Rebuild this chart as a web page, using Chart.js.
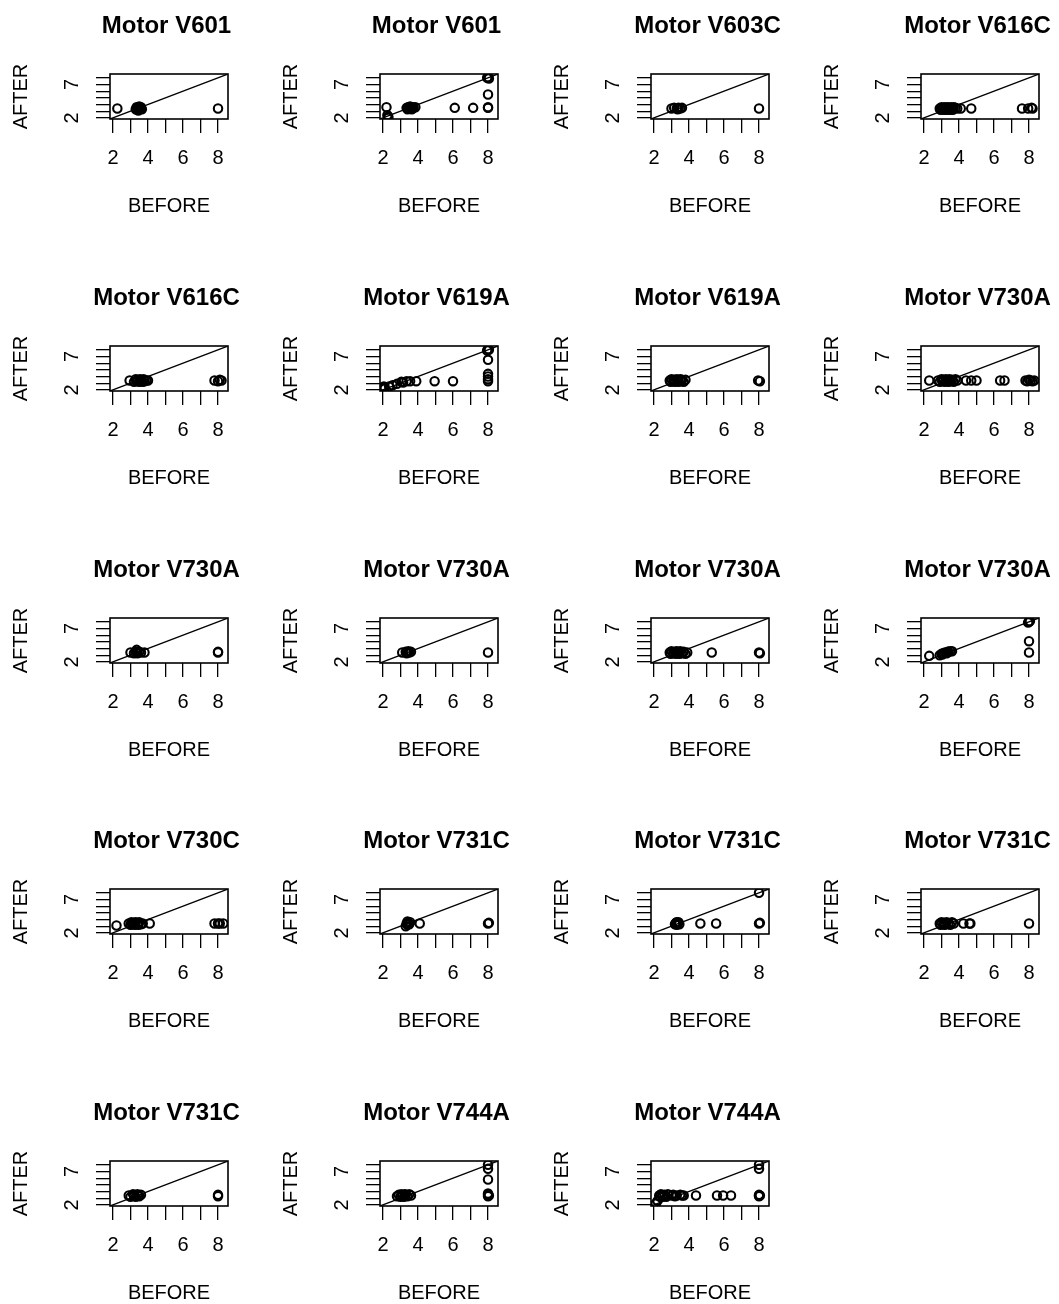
<!DOCTYPE html>
<html>
<head>
<meta charset="utf-8">
<title>Motor BEFORE / AFTER</title>
<script src="https://cdn.jsdelivr.net/npm/chart.js@4.4.1/dist/chart.umd.min.js"></script>
<style>
  html, body { margin: 0; padding: 0; background: #fff; }
  #grid { position: relative; width: 1059px; height: 1304px; overflow: hidden; }
  #grid canvas { position: absolute; }
</style>
</head>
<body>
<div id="grid"></div>
<script>
// one panel per motor, same order as the picture (row by row)
const titles = [
  "Motor V601", "Motor V601", "Motor V603C", "Motor V616C",
  "Motor V616C", "Motor V619A", "Motor V619A", "Motor V730A",
  "Motor V730A", "Motor V730A", "Motor V730A", "Motor V730A",
  "Motor V730C", "Motor V731C", "Motor V731C", "Motor V731C",
  "Motor V731C", "Motor V744A", "Motor V744A"
];

const before = [
  [2.25, 3.3, 3.35, 3.4, 3.4, 3.45, 3.5, 3.5, 3.55, 3.6, 3.6, 3.65, 3.45, 8.0],
  [2.2, 2.25, 2.3, 2.3, 3.35, 3.4, 3.45, 3.5, 3.55, 3.6, 3.65, 3.7, 3.75, 3.85, 6.1, 7.15, 8.0, 8.0, 8.0, 7.95, 8.0, 8.05],
  [3.0, 3.15, 3.3, 3.35, 3.4, 3.5, 3.6, 8.0],
  [2.9, 2.95, 3.0, 3.05, 3.1, 3.15, 3.2, 3.25, 3.3, 3.35, 3.4, 3.45, 3.5, 3.55, 3.6, 3.65, 3.7, 3.8, 3.9, 4.1, 4.7, 7.6, 7.95, 8.2, 8.15],
  [2.95, 3.2, 3.3, 3.35, 3.4, 3.5, 3.55, 3.6, 3.7, 3.75, 3.8, 3.9, 4.0, 7.8, 8.0, 8.1, 8.2],
  [2.0, 2.05, 2.1, 2.35, 2.55, 2.8, 3.05, 3.15, 3.35, 3.55, 3.9, 4.95, 6.0, 8.0, 8.0, 8.0, 8.0, 8.0, 7.95, 8.0, 8.05],
  [2.9, 2.95, 3.0, 3.1, 3.15, 3.2, 3.3, 3.35, 3.4, 3.5, 3.55, 3.6, 3.7, 3.8, 7.95, 8.05],
  [2.3, 2.8, 2.9, 3.0, 3.05, 3.1, 3.2, 3.25, 3.3, 3.4, 3.45, 3.5, 3.6, 3.7, 3.8, 3.9, 4.4, 4.7, 5.0, 6.35, 6.6, 7.8, 7.9, 8.0, 8.1, 8.2, 8.3],
  [3.0, 3.2, 3.3, 3.35, 3.4, 3.5, 3.6, 3.8, 8.0, 8.0],
  [3.1, 3.3, 3.35, 3.4, 3.45, 3.5, 3.6, 8.0],
  [2.9, 2.95, 3.0, 3.1, 3.2, 3.25, 3.3, 3.4, 3.45, 3.5, 3.6, 3.7, 3.8, 3.9, 5.3, 8.0, 8.05],
  [2.3, 2.9, 3.0, 3.05, 3.1, 3.2, 3.3, 3.35, 3.4, 3.5, 3.6, 8.0, 8.0, 8.0, 7.95, 8.05],
  [2.2, 2.9, 3.0, 3.05, 3.1, 3.2, 3.25, 3.3, 3.4, 3.45, 3.5, 3.6, 3.7, 4.1, 7.8, 8.0, 8.1, 8.3],
  [3.3, 3.35, 3.4, 3.4, 3.45, 3.5, 3.55, 4.1, 8.0, 8.05],
  [3.2, 3.25, 3.3, 3.3, 3.35, 3.4, 3.45, 4.65, 5.55, 8.0, 8.05, 8.0],
  [2.9, 2.95, 3.0, 3.1, 3.15, 3.2, 3.3, 3.4, 3.5, 3.6, 3.7, 4.25, 4.6, 4.65, 8.0],
  [2.9, 3.0, 3.15, 3.2, 3.3, 3.4, 3.45, 3.5, 3.6, 8.0, 8.0],
  [2.8, 2.9, 3.0, 3.05, 3.1, 3.2, 3.25, 3.3, 3.4, 3.5, 3.6, 8.0, 8.0, 8.0, 8.05, 8.0, 8.0, 8.0],
  [2.1, 2.2, 2.3, 2.35, 2.4, 2.5, 2.6, 2.7, 2.8, 3.0, 3.1, 3.2, 3.3, 3.5, 3.6, 3.7, 4.4, 5.6, 5.95, 6.4, 8.0, 8.0, 8.0, 8.05, 8.0, 8.0]
];

const after = [
  [3.4, 3.3, 3.6, 3.2, 3.5, 3.4, 3.7, 3.3, 3.5, 3.4, 3.6, 3.3, 3.1, 3.4],
  [3.6, 2.4, 2.2, 2.0, 3.5, 3.3, 3.6, 3.4, 3.7, 3.5, 3.3, 3.6, 3.5, 3.6, 3.5, 3.5, 3.5, 3.6, 5.5, 8.0, 8.1, 7.9],
  [3.4, 3.5, 3.4, 3.3, 3.5, 3.4, 3.5, 3.4],
  [3.4, 3.2, 3.6, 3.3, 3.5, 3.2, 3.6, 3.4, 3.2, 3.6, 3.3, 3.5, 3.2, 3.6, 3.4, 3.2, 3.6, 3.5, 3.4, 3.4, 3.4, 3.4, 3.4, 3.4, 3.5],
  [3.4, 3.2, 3.6, 3.3, 3.5, 3.2, 3.6, 3.4, 3.2, 3.6, 3.3, 3.4, 3.4, 3.4, 3.3, 3.5, 3.4],
  [2.3, 2.5, 2.2, 2.5, 2.7, 2.9, 3.2, 3.1, 3.3, 3.3, 3.3, 3.3, 3.3, 3.3, 3.6, 4.0, 4.4, 6.5, 7.9, 8.1, 8.0],
  [3.4, 3.2, 3.6, 3.3, 3.5, 3.2, 3.6, 3.4, 3.2, 3.6, 3.3, 3.5, 3.2, 3.5, 3.4, 3.3],
  [3.4, 3.4, 3.2, 3.6, 3.3, 3.5, 3.2, 3.6, 3.4, 3.2, 3.6, 3.3, 3.5, 3.2, 3.6, 3.4, 3.4, 3.4, 3.4, 3.4, 3.4, 3.4, 3.3, 3.5, 3.4, 3.3, 3.4],
  [3.4, 3.3, 3.5, 3.8, 3.3, 3.5, 3.4, 3.4, 3.4, 3.5],
  [3.4, 3.5, 3.3, 3.4, 3.6, 3.4, 3.5, 3.4],
  [3.4, 3.2, 3.6, 3.3, 3.5, 3.2, 3.6, 3.4, 3.2, 3.6, 3.3, 3.5, 3.2, 3.4, 3.4, 3.4, 3.3],
  [2.9, 3.0, 3.2, 3.1, 3.3, 3.4, 3.3, 3.5, 3.5, 3.6, 3.6, 3.4, 5.1, 8.0, 7.9, 8.1],
  [3.1, 3.4, 3.2, 3.6, 3.3, 3.5, 3.2, 3.6, 3.4, 3.2, 3.6, 3.3, 3.4, 3.4, 3.4, 3.4, 3.4, 3.4],
  [3.0, 3.4, 3.7, 3.2, 3.5, 3.3, 3.6, 3.4, 3.4, 3.5],
  [3.3, 3.5, 3.2, 3.6, 3.4, 3.6, 3.3, 3.4, 3.4, 3.4, 3.5, 8.0],
  [3.4, 3.2, 3.6, 3.3, 3.5, 3.2, 3.6, 3.4, 3.2, 3.6, 3.4, 3.4, 3.4, 3.4, 3.4],
  [3.4, 3.2, 3.6, 3.4, 3.2, 3.6, 3.4, 3.3, 3.5, 3.3, 3.5],
  [3.3, 3.5, 3.2, 3.6, 3.4, 3.2, 3.6, 3.5, 3.3, 3.6, 3.4, 3.3, 3.5, 3.7, 3.4, 5.8, 7.4, 8.0],
  [2.2, 2.6, 3.4, 3.2, 3.6, 3.3, 3.5, 3.2, 3.6, 3.4, 3.5, 3.3, 3.4, 3.5, 3.4, 3.4, 3.4, 3.4, 3.4, 3.4, 3.3, 3.4, 3.5, 3.4, 7.4, 8.0]
];

// same axes on every panel
const axisMin = 1.83;
const axisMax = 8.57;
const xTicks = [2, 3, 4, 5, 6, 7, 8];
const xTickLabels = [2, 4, 6, 8];
const yTicks = [2, 3, 4, 5, 6, 7, 8];
const yTickLabels = [2, 7];
const refLine = [0, 10]; // AFTER = BEFORE

const FONT = '"Liberation Sans", Arial, Helvetica, sans-serif';
const CELL_W = 270.3, CELL_H = 271.8;

// R style box round the plot region
const boxFrame = {
  id: 'boxFrame',
  afterDraw(chart) {
    const {ctx, chartArea: a} = chart;
    ctx.save();
    ctx.strokeStyle = '#000';
    ctx.lineWidth = 1.6;
    ctx.strokeRect(a.left, a.top, a.right - a.left, a.bottom - a.top);
    ctx.restore();
  }
};

function axisGrid() {
  return {drawOnChartArea: false, drawTicks: true, tickLength: 14, color: '#000', lineWidth: 1.3};
}

let grid = document.getElementById('grid');

titles.forEach((name, i) => {
  let col = i % 4, row = Math.floor(i / 4);
  let cv = document.createElement('canvas');
  // wider than the cell so the title can sit centred over the box, canvases are transparent
  cv.width = 333;
  cv.height = 272;
  cv.style.left = Math.round(col * CELL_W) + 'px';
  cv.style.top = Math.round(row * CELL_H) + 'px';
  grid.appendChild(cv);

  new Chart(cv, {
    type: 'scatter',
    data: {
      datasets: [{
        data: before[i].map((b, k) => ({x: b, y: after[i][k]})),
        pointStyle: 'circle',
        pointRadius: 4.2,
        pointHoverRadius: 4.2,
        pointBorderWidth: 2.1,
        borderColor: '#000',
        backgroundColor: 'rgba(0,0,0,0)'
      }, {
        type: 'line',
        data: refLine.map(v => ({x: v, y: v})),
        borderColor: '#000',
        borderWidth: 1.3,
        pointRadius: 0,
        fill: false
      }]
    },
    options: {
      responsive: false,
      animation: false,
      events: [],
      layout: {padding: 0},
      plugins: {
        legend: {display: false},
        tooltip: {enabled: false},
        title: {
          display: true,
          text: name,
          color: '#000',
          font: {family: FONT, size: 24, weight: 'bold'},
          padding: {top: 11.6, bottom: 33.6}
        }
      },
      scales: {
        x: {
          type: 'linear',
          position: 'bottom',
          bounds: 'data',
          min: axisMin,
          max: axisMax,
          afterBuildTicks: s => { s.ticks = xTicks.map(v => ({value: v})); },
          afterFit: s => { s.height = 153; },
          grid: axisGrid(),
          border: {display: false},
          ticks: {
            autoSkip: false, maxRotation: 0, padding: 13.5, color: '#000',
            font: {family: FONT, size: 20},
            callback: v => xTickLabels.includes(v) ? String(v) : ''
          },
          title: {display: true, text: 'BEFORE', color: '#000', font: {family: FONT, size: 20}, padding: {top: 0, bottom: 54}}
        },
        y: {
          type: 'linear',
          position: 'left',
          bounds: 'data',
          min: axisMin,
          max: axisMax,
          afterBuildTicks: s => { s.ticks = yTicks.map(v => ({value: v})); },
          afterFit: s => { s.width = 110; },
          grid: axisGrid(),
          border: {display: false},
          ticks: {
            autoSkip: false, minRotation: 90, maxRotation: 90, crossAlign: 'center', padding: 18, color: '#000',
            font: {family: FONT, size: 20},
            callback: v => yTickLabels.includes(v) ? String(v) : ''
          },
          title: {display: true, text: 'AFTER', color: '#000', font: {family: FONT, size: 20}, padding: {top: 9.5, bottom: 0}}
        },
        // empty right margin, keeps the plot box where R put it
        yRight: {
          type: 'linear',
          position: 'right',
          afterFit: s => { s.width = 105; },
          grid: {display: false},
          border: {display: false},
          ticks: {display: false}
        }
      }
    },
    plugins: [boxFrame]
  });
});
</script>
</body>
</html>
